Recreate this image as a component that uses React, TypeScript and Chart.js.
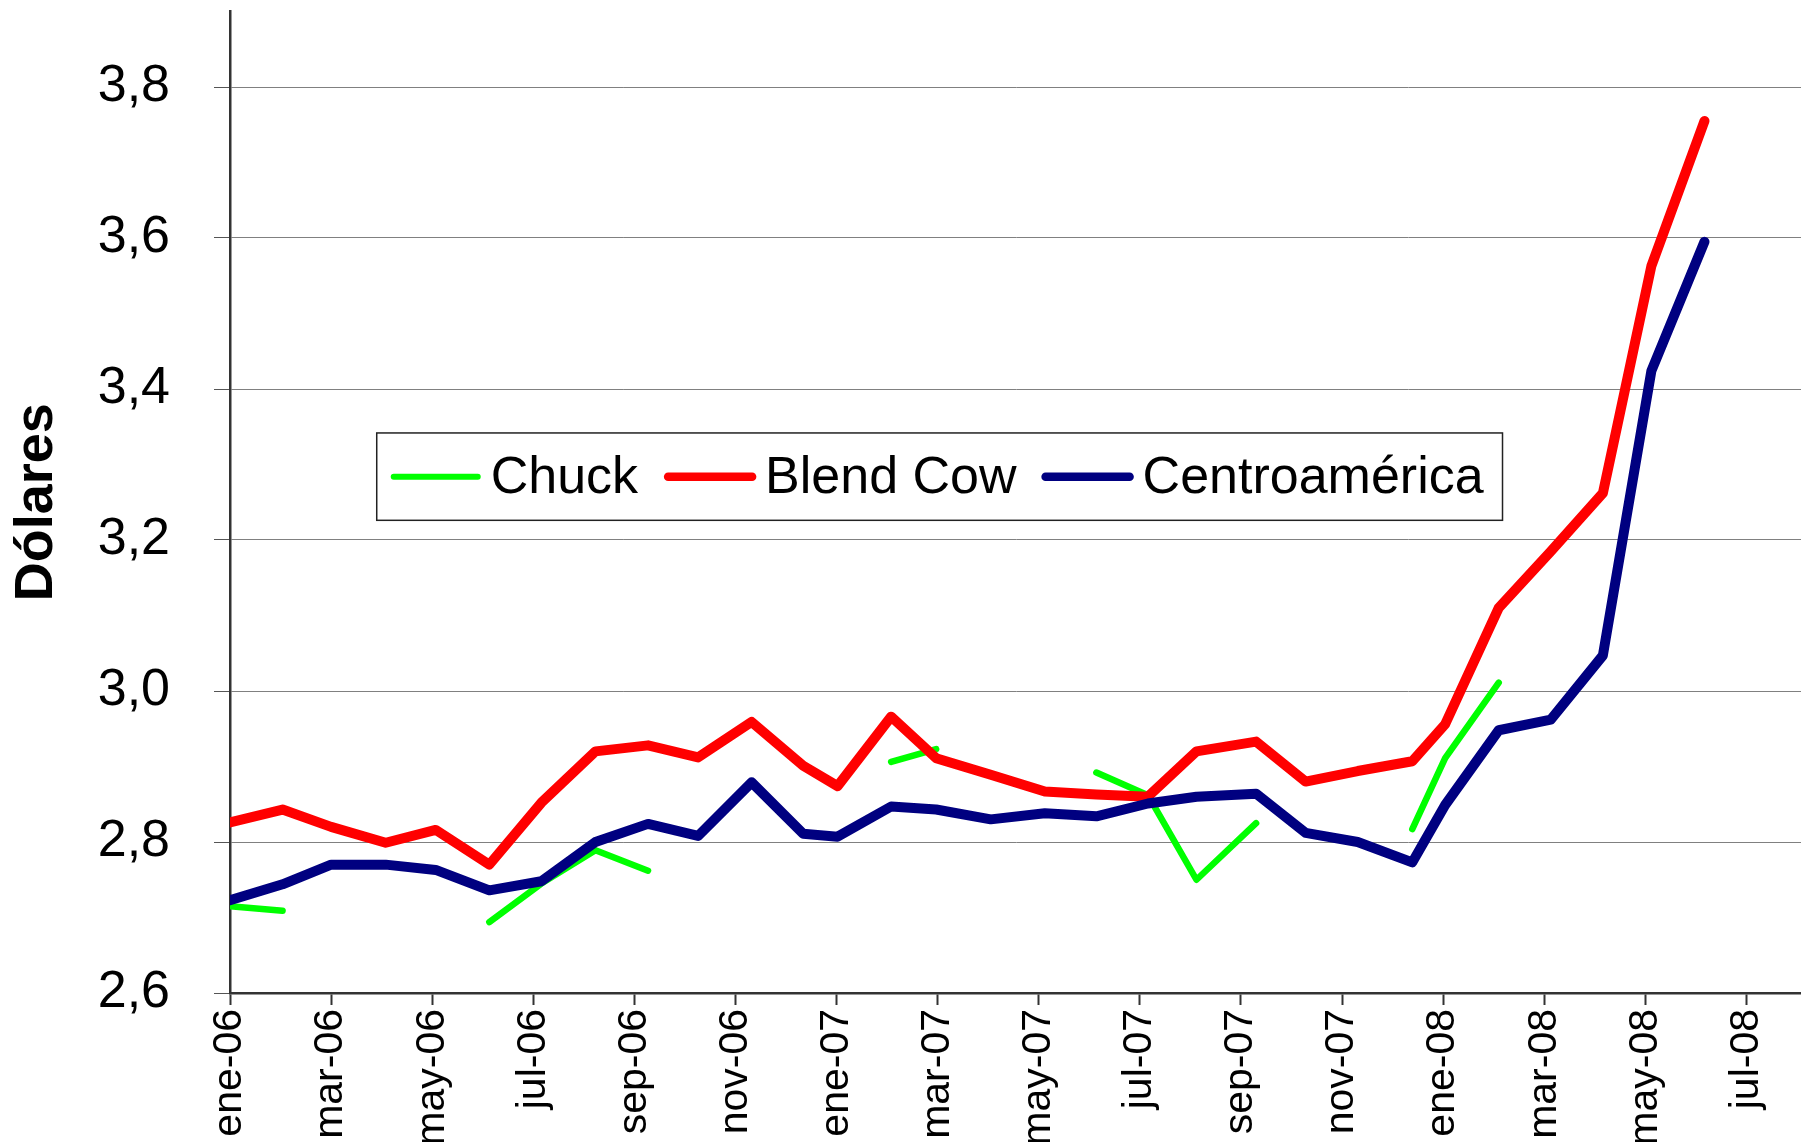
import React, { useEffect, useRef } from "react";
import { Chart, registerables } from "chart.js";

Chart.register(...registerables);

const monthPositions = [
  0, 1.04, 2.0, 3.08, 4.07, 5.13, 6.16, 7.23, 8.27, 9.26,
  10.32, 11.34, 12.02, 13.08, 13.97, 15.05, 16.12, 17.14, 18.16, 19.12,
  20.3, 21.28, 22.31, 23.39, 24.04, 25.1, 26.13, 27.16, 28.12, 29.17,
];

const chuck: (number | null)[] = [
  2.715, 2.709, null, null, null, 2.694, 2.745, 2.789, 2.762, null,
  null, null, null, 2.906, 2.923, null, null, 2.892, 2.862, 2.75,
  2.825, null, null, 2.817, 2.911, 3.011, null, null, null, null,
];

const blendCow = [
  2.826, 2.843, 2.82, 2.799, 2.816, 2.77, 2.852, 2.92, 2.928, 2.912,
  2.959, 2.901, 2.874, 2.966, 2.911, 2.889, 2.867, 2.863, 2.86, 2.92,
  2.933, 2.88, 2.894, 2.907, 2.956, 3.11, 3.185, 3.262, 3.563, 3.755,
];

const centroamerica = [
  2.723, 2.744, 2.77, 2.77, 2.763, 2.736, 2.748, 2.8, 2.824, 2.808,
  2.879, 2.811, 2.807, 2.847, 2.843, 2.83, 2.838, 2.834, 2.851, 2.86,
  2.864, 2.812, 2.8, 2.773, 2.849, 2.948, 2.962, 3.047, 3.424, 3.595,
];

const tickMonths = [0, 2, 4, 6, 8, 10, 12, 14, 16, 18, 20, 22, 24, 26, 28, 30];
const tickLabels = [
  "ene-06", "mar-06", "may-06", "jul-06", "sep-06", "nov-06",
  "ene-07", "mar-07", "may-07", "jul-07", "sep-07", "nov-07",
  "ene-08", "mar-08", "may-08", "jul-08",
];
const yTicks = [2.6, 2.8, 3.0, 3.2, 3.4, 3.6, 3.8];

const seriesNames = ["Chuck", "Blend Cow", "Centroamérica"];
const seriesColors = ["#00FF00", "#FF0000", "#000080"];
const seriesWidths = [6.5, 10, 10];
const legendWidths = [6, 8.5, 8.5];

const FONT = '"Liberation Sans", Arial, sans-serif';

const toPoints = (vals: (number | null)[]) =>
  monthPositions.map((x, i) => ({ x, y: vals[i] }));

const boxLegend = {
  id: "boxLegend",
  afterDatasetsDraw(chart: any) {
    const { ctx, chartArea: a } = chart;
    const x0 = a.left + a.width * 0.0934;
    const x1 = a.left + a.width * 0.81;
    const y0 = a.top + a.height * 0.4294;
    const y1 = a.top + a.height * 0.5184;
    ctx.save();
    ctx.fillStyle = "#ffffff";
    ctx.fillRect(x0, y0, x1 - x0, y1 - y0);
    ctx.strokeStyle = "#222222";
    ctx.lineWidth = 1.5;
    ctx.strokeRect(x0, y0, x1 - x0, y1 - y0);
    const cy = (y0 + y1) / 2;
    ctx.font = `52px ${FONT}`;
    ctx.textBaseline = "middle";
    ctx.textAlign = "left";
    ctx.lineCap = "round";
    let x = x0 + 17;
    const gaps = [30, 29, 0];
    seriesNames.forEach((name, i) => {
      ctx.strokeStyle = seriesColors[i];
      ctx.lineWidth = legendWidths[i];
      ctx.beginPath();
      ctx.moveTo(x, cy);
      ctx.lineTo(x + 84, cy);
      ctx.stroke();
      x += 84 + 13;
      ctx.fillStyle = "#000";
      ctx.fillText(name, x, cy + 2);
      x += ctx.measureText(name).width + gaps[i];
    });
    ctx.restore();
  },
};

export default function App() {
  const ref = useRef<HTMLCanvasElement>(null);

  useEffect(() => {
    document.body.style.margin = "0";
    const series = [chuck, blendCow, centroamerica];
    const chart = new Chart(ref.current!, {
      type: "line",
      data: {
        datasets: series.map((vals, i) => ({
          label: seriesNames[i],
          data: toPoints(vals),
          borderColor: seriesColors[i],
          backgroundColor: seriesColors[i],
          borderWidth: seriesWidths[i],
          pointRadius: 0,
          pointHoverRadius: 0,
          tension: 0,
          spanGaps: false,
          borderCapStyle: "round",
          borderJoinStyle: "round",
          order: 2 - i,
        })),
      },
      options: {
        responsive: false,
        animation: false,
        layout: { padding: { top: 11.5, right: 0, bottom: 0, left: 0 } },
        plugins: {
          legend: { display: false },
          tooltip: { enabled: false },
        },
        scales: {
          x: {
            type: "linear",
            min: 0,
            max: 31.08,
            afterBuildTicks: (axis: any) => {
              axis.ticks = tickMonths.map((v) => ({ value: v }));
            },
            afterFit: (axis: any) => {
              axis.height = 149;
              axis.paddingLeft = 0;
              axis.paddingRight = 0;
              axis.paddingTop = 0;
              axis.paddingBottom = 0;
            },
            ticks: {
              autoSkip: false,
              maxRotation: 90,
              minRotation: 90,
              padding: 4,
              color: "#000",
              font: { family: FONT, size: 41 },
              callback: (v: any) => {
                const idx = tickMonths.indexOf(Number(v));
                return idx >= 0 ? tickLabels[idx] : "";
              },
            },
            grid: {
              drawOnChartArea: false,
              drawTicks: true,
              tickLength: 12,
              tickColor: "#333",
              tickWidth: 2,
            },
            border: { color: "#333", width: 2.5 },
          },
          y: {
            type: "linear",
            min: 2.6,
            max: 3.9,
            afterBuildTicks: (axis: any) => {
              axis.ticks = yTicks.map((v) => ({ value: v }));
            },
            afterFit: (axis: any) => {
              axis.width = 230;
              axis.paddingTop = 0;
              axis.paddingBottom = 0;
              axis.paddingLeft = 0;
              axis.paddingRight = 0;
            },
            ticks: {
              padding: 44,
              color: "#000",
              font: { family: FONT, size: 52 },
              callback: (v: any) => Number(v).toFixed(1).replace(".", ","),
            },
            grid: {
              color: "#808080",
              lineWidth: 1,
              drawTicks: true,
              tickLength: 16,
              tickColor: "#555",
            },
            border: { color: "#333", width: 2.5 },
            title: {
              display: true,
              text: "Dólares",
              color: "#000",
              font: { family: FONT, size: 54, weight: "bold" },
              padding: { top: 5, bottom: 0 },
            },
          },
        },
      },
      plugins: [boxLegend],
    } as any);
    return () => chart.destroy();
  }, []);

  return (
    <div
      style={{
        position: "fixed",
        left: 0,
        top: 0,
        width: 1801,
        height: 1142,
        background: "#fff",
      }}
    >
      <canvas ref={ref} width={1801} height={1142} />
    </div>
  );
}
